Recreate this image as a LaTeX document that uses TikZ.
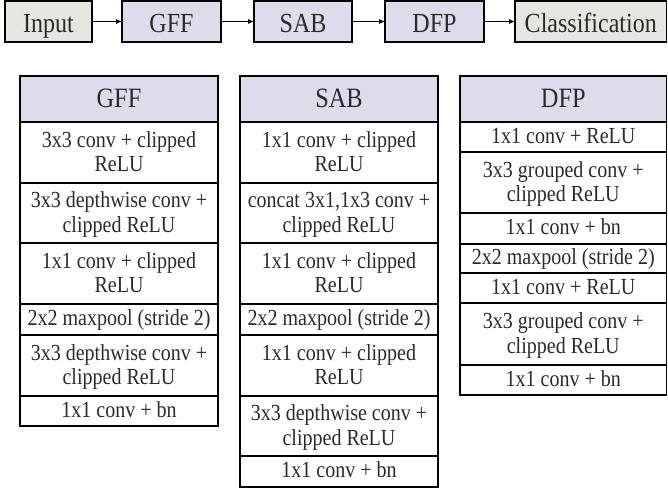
\documentclass[tikz,border=0pt]{standalone}
\usepackage{fontspec}
\setmainfont[FakeStretch=0.87]{Liberation Serif}
\usetikzlibrary{arrows.meta}
\definecolor{lav}{HTML}{DCDCEA}
\definecolor{beige}{HTML}{E7E5DF}
\definecolor{txt}{HTML}{2A2A2A}
\begin{document}
\begin{tikzpicture}[x=1pt,y=-1pt,
 flow/.style={draw, line width=1.2pt, minimum height=41pt, inner sep=0pt, outer sep=0pt, font=\fontsize{27.6}{30}\selectfont, text=txt, text height=22pt, text depth=0pt},
 cell/.style={draw, line width=1.2pt, inner sep=0pt, outer sep=0pt, align=center, anchor=north, font=\fontsize{23}{24.5}\selectfont, text=txt},
 one/.style={text height=12pt, text depth=0pt},
 two/.style={text height=38.5pt, text depth=0pt},
 hd/.style={cell, fill=lav, minimum height=46pt, font=\fontsize{28}{30}\selectfont, text height=17.4pt, text depth=0pt},
 gw/.style={cell, minimum width=198pt},
 dw/.style={cell, minimum width=206.5pt},
 arr/.style={-{Latex[length=6pt,width=5pt]}, line width=1pt}]
\useasboundingbox (0,0) rectangle (668,489);
% flow row
\node[flow, fill=beige, minimum width=87pt] (in) at (48.5,21.5) {Input};
\node[flow, fill=lav, minimum width=99pt] (gff) at (171.5,21.5) {GFF};
\node[flow, fill=lav, minimum width=98pt] (sab) at (303,21.5) {SAB};
\node[flow, fill=lav, minimum width=99pt] (dfp) at (434.5,21.5) {DFP};
\node[flow, fill=beige, minimum width=151.5pt] (cls) at (590.75,21.5) {Classification};
\draw[arr] (in) -- (gff);
\draw[arr] (gff) -- (sab);
\draw[arr] (sab) -- (dfp);
\draw[arr] (dfp) -- (cls);
% GFF table
\node[hd, minimum width=198pt] (g0) at (119,76) {GFF};
\node[gw, two, minimum height=61pt] (g1) at (119,122) {3x3 conv + clipped\\ReLU};
\node[gw, two, minimum height=60pt] (g2) at (119,183) {3x3 depthwise conv +\\clipped ReLU};
\node[gw, two, minimum height=61pt] (g3) at (119,243) {1x1 conv + clipped\\ReLU};
\node[gw, one, minimum height=31pt] (g4) at (119,304) {2x2 maxpool (stride 2)};
\node[gw, two, minimum height=61pt] (g5) at (119,335) {3x3 depthwise conv +\\clipped ReLU};
\node[gw, one, minimum height=30pt] (g6) at (119,396) {1x1 conv + bn};
% SAB table
\node[hd, minimum width=198pt] (s0) at (339,76) {SAB};
\node[gw, two, minimum height=61pt] (s1) at (339,122) {1x1 conv + clipped\\ReLU};
\node[gw, two, minimum height=60pt] (s2) at (339,183) {concat 3x1,1x3 conv +\\clipped ReLU};
\node[gw, two, minimum height=61pt] (s3) at (339,243) {1x1 conv + clipped\\ReLU};
\node[gw, one, minimum height=31pt] (s4) at (339,304) {2x2 maxpool (stride 2)};
\node[gw, two, minimum height=61pt] (s5) at (339,335) {1x1 conv + clipped\\ReLU};
\node[gw, two, minimum height=60pt] (s6) at (339,396) {3x3 depthwise conv +\\clipped ReLU};
\node[gw, one, minimum height=31pt] (s7) at (339,456) {1x1 conv + bn};
% DFP table
\node[hd, minimum width=206.5pt] (d0) at (563.25,76) {DFP};
\node[dw, one, minimum height=30pt] (d1) at (563.25,122) {1x1 conv + ReLU};
\node[dw, two, minimum height=61pt] (d2) at (563.25,152) {3x3 grouped conv +\\clipped ReLU};
\node[dw, one, minimum height=31pt] (d3) at (563.25,213) {1x1 conv + bn};
\node[dw, one, minimum height=29pt] (d4) at (563.25,244) {2x2 maxpool (stride 2)};
\node[dw, one, minimum height=30pt] (d5) at (563.25,273) {1x1 conv + ReLU};
\node[dw, two, minimum height=62pt] (d6) at (563.25,303) {3x3 grouped conv +\\clipped ReLU};
\node[dw, one, minimum height=30pt] (d7) at (563.25,365) {1x1 conv + bn};
\end{tikzpicture}
\end{document}
